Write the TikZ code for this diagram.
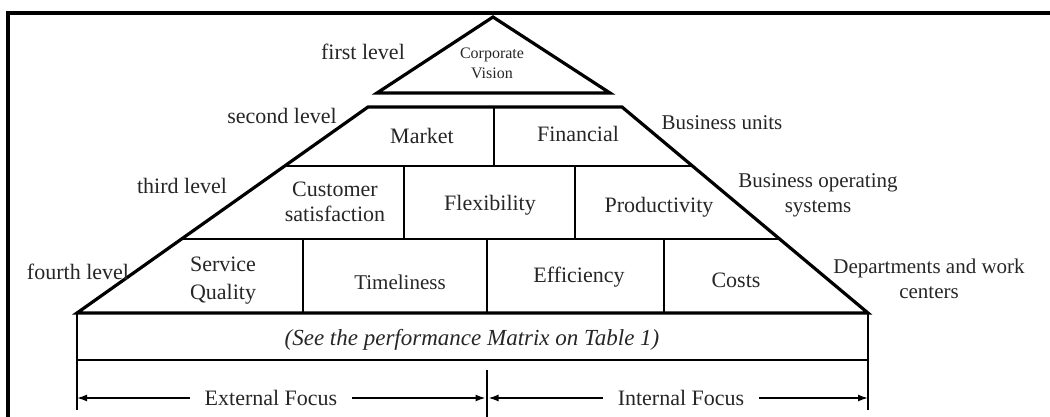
\documentclass[tikz,border=0pt]{standalone}
\usepackage{fontspec}
\setmainfont{Liberation Serif}
\usetikzlibrary{arrows.meta,calc}

\begin{document}
\begin{tikzpicture}[x=1pt,y=-1pt,
  frameline/.style={line width=4pt, line join=miter},
  thickline/.style={line width=3.2pt, line join=miter},
  thinline/.style={line width=1.8pt},
  dimline/.style={line width=1.5pt, -{Latex[length=10pt,width=7pt]}},
  lbl/.style={font=\fontsize{22}{25}\selectfont, align=center, text=black!85, inner sep=0pt},
  side/.style={font=\fontsize{21}{25}\selectfont, align=center, text=black!85, inner sep=0pt},
  small/.style={font=\fontsize{16}{20}\selectfont, align=center, text=black!85, inner sep=0pt},
  ital/.style={font=\fontsize{23}{26}\selectfont\itshape, text=black!85, inner sep=0pt},
  focus/.style={font=\fontsize{22}{25}\selectfont, text=black!85, inner ysep=0pt, inner xsep=15pt}
]
\useasboundingbox (0,0) rectangle (1050,417);

% outer frame (left and top edges)
\draw[frameline] (8,417) -- (8,13.5) -- (1052,13.5);

% apex triangle
\coordinate (apex) at (493,17);
\coordinate (tbl) at (377,93);
\coordinate (tbr) at (610,93);
\draw[thickline] (tbl) -- (apex) -- (tbr) -- cycle;

% trapezoid corners
\coordinate (TL) at (368,107);
\coordinate (TR) at (622,107);
\coordinate (BR) at (868,313);
\coordinate (BL) at (77,313);

% level separators
\coordinate (l2L) at ($(TL)!0.2864!(BL)$);
\coordinate (l2R) at ($(TR)!0.2864!(BR)$);
\coordinate (l3L) at ($(TL)!0.6408!(BL)$);
\coordinate (l3R) at ($(TR)!0.6408!(BR)$);
\draw[thinline] (l2L) -- (l2R);
\draw[thinline] (l3L) -- (l3R);

% vertical dividers
\coordinate (d2t) at (494,107);  \coordinate (d2b) at (494,166);
\coordinate (d3at) at (404,166); \coordinate (d3ab) at (404,239);
\coordinate (d3bt) at (575,166); \coordinate (d3bb) at (575,239);
\coordinate (d4at) at (303,239); \coordinate (d4ab) at (303,313);
\coordinate (d4bt) at (487,239); \coordinate (d4bb) at (487,313);
\coordinate (d4ct) at (664,239); \coordinate (d4cb) at (664,313);
\draw[thinline] (d2t) -- (d2b);
\draw[thinline] (d3at) -- (d3ab);
\draw[thinline] (d3bt) -- (d3bb);
\draw[thinline] (d4at) -- (d4ab);
\draw[thinline] (d4bt) -- (d4bb);
\draw[thinline] (d4ct) -- (d4cb);

% matrix strip and extension lines
\coordinate (RL) at (77,360);
\coordinate (RR) at (868,360);
\coordinate (xL) at (77,410);
\coordinate (xR) at (868,410);
\coordinate (mT) at (487,370);
\coordinate (mB) at (487,417);
\draw[thinline] (BL) -- (xL);
\draw[thinline] (BR) -- (xR);
\draw[thinline] (RL) -- (RR);
\draw[thinline] (mT) -- (mB);

% pyramid outline
\draw[thickline] (TL) -- (TR) -- (BR) -- (BL) -- cycle;

% labels
\node[lbl] (first) at (363,52) {first level};
\node[small] (vision) at (492,63) {Corporate\\Vision};
\node[lbl] (second) at (282,116) {second level};
\node[lbl] (market) at (422,136) {Market};
\node[lbl] (financial) at (578,134) {Financial};
\node[side] (bu) at (722,123) {Business units};
\node[lbl] (third) at (182,186) {third level};
\node[lbl] (cust) at (335,202) {Customer\\satisfaction};
\node[lbl] (flex) at (490,205) {Flexibility};
\node[lbl] (prod) at (659,207) {Productivity};
\node[side] (bos) at (818,195) {Business operating\\systems};
\node[lbl] (fourth) at (78,272) {fourth level};
\node[lbl, font=\fontsize{22}{28}\selectfont] (sq) at (223,281) {Service\\Quality};
\node[side] (time) at (400,282) {Timeliness};
\node[lbl] (eff) at (579,277) {Efficiency};
\node[lbl] (costs) at (736,280) {Costs};
\node[side] (dept) at (929,279) {Departments and work\\centers};
\node[ital] (see) at (472,340) {(See the performance Matrix on Table 1)};

% focus dimension arrows
\node[focus] (ext) at (271,398) {External Focus};
\node[focus] (int) at (681,398) {Internal Focus};
\draw[dimline] (ext.west) -- (xL |- ext.west);
\draw[dimline] (ext.east) -- ([xshift=-1.5pt]mT |- ext.east);
\draw[dimline] (int.west) -- ([xshift=1.5pt]mT |- int.west);
\draw[dimline] (int.east) -- (xR |- int.east);
\end{tikzpicture}
\end{document}
